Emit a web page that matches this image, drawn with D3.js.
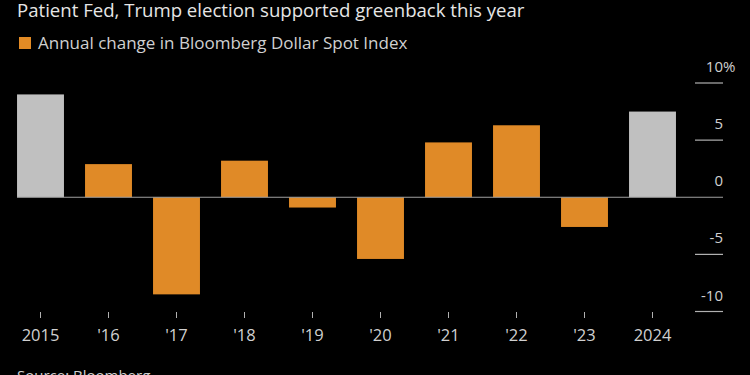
<!DOCTYPE html>
<html>
<head>
<meta charset="utf-8">
<title>Bloomberg Dollar Spot Index annual change</title>
<script src="https://d3js.org/d3.v7.min.js"></script>
<style>
  body { margin: 0; background: #000; }
  text { font-family: "Open Sans", "Noto Sans", sans-serif; fill: #d0d0d0; }
</style>
</head>
<body>
<script>
const width = 750;
const height = 375;

// data
const years = ["2015", "'16", "'17", "'18", "'19", "'20", "'21", "'22", "'23", "2024"];
const changes = [9.0, 2.9, -8.5, 3.2, -0.9, -5.4, 4.8, 6.3, -2.6, 7.5];
const highlighted = ["2015", "2024"];
const yTicks = [10, 5, 0, -5, -10];

const data = years.map((y, i) => ({ year: y, value: changes[i] }));

const svg = d3.select("body").append("svg")
    .attr("width", width)
    .attr("height", height)
    .style("background-color", "#000");

const x = d3.scaleBand()
    .domain(years)
    .range([6.5, 686.5])
    .paddingInner(0.31)
    .paddingOuter(0.155);

const y = d3.scaleLinear()
    .domain([-10, 10])
    .range([311.5, 83]);

// title + legend
svg.append("text")
    .attr("x", 17).attr("y", 16.5)
    .style("font-size", "18.6px")
    .style("fill", "#e6e6e6")
    .text("Patient Fed, Trump election supported greenback this year");

svg.append("rect")
    .attr("x", 19).attr("y", 37)
    .attr("width", 12).attr("height", 12)
    .attr("fill", "#e38b25");

svg.append("text")
    .attr("x", 38).attr("y", 49)
    .style("font-size", "17px")
    .text("Annual change in Bloomberg Dollar Spot Index");

// bars
svg.selectAll("rect.bar")
    .data(data).join("rect")
    .attr("class", "bar")
    .attr("x", d => x(d.year))
    .attr("width", x.bandwidth())
    .attr("y", d => y(Math.max(0, d.value)))
    .attr("height", d => Math.abs(y(d.value) - y(0)))
    .attr("fill", d => highlighted.includes(d.year) ? "#c0c0c0" : "#e08a27");

// zero line
svg.append("line")
    .attr("x1", 17).attr("x2", 723)
    .attr("y1", y(0)).attr("y2", y(0))
    .attr("stroke", "#a0a0a0")
    .attr("stroke-width", 1.2);

// right axis
const gy = svg.append("g").attr("class", "y-axis");
gy.selectAll("line")
    .data(yTicks.filter(d => d !== 0)).join("line")
    .attr("x1", 695).attr("x2", 723)
    .attr("y1", d => y(d)).attr("y2", d => y(d))
    .attr("stroke", "#b0b0b0")
    .attr("stroke-width", 1.2);
gy.selectAll("text")
    .data(yTicks).join("text")
    .attr("x", 723)
    .attr("y", d => y(d) - 11)
    .attr("text-anchor", "end")
    .style("font-size", "15px")
    .text(d => d);
// percent sign hangs past the alignment edge
gy.append("text")
    .attr("x", 723)
    .attr("y", y(10) - 11)
    .style("font-size", "15px")
    .text("%");

// x axis
const gx = svg.append("g").attr("class", "x-axis");
gx.selectAll("line")
    .data(years).join("line")
    .attr("x1", d => x(d) + x.bandwidth() / 2)
    .attr("x2", d => x(d) + x.bandwidth() / 2)
    .attr("y1", 312).attr("y2", 318)
    .attr("stroke", "#b0b0b0");
gx.selectAll("text")
    .data(years).join("text")
    .attr("x", d => x(d) + x.bandwidth() / 2)
    .attr("y", 341)
    .attr("text-anchor", "middle")
    .style("font-size", "16.5px")
    .text(d => d);

// source
svg.append("text")
    .attr("x", 17).attr("y", 381)
    .style("font-size", "15px")
    .text("Source: Bloomberg");
</script>
</body>
</html>
